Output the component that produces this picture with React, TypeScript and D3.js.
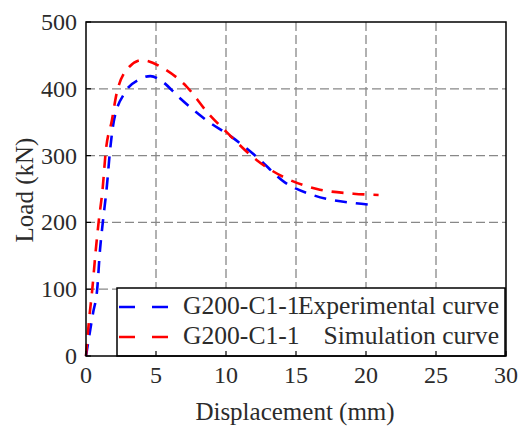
import * as d3 from "d3";

// Experimental curve (blue)
const expX = [0, 0.5, 0.8, 1.0, 1.2, 1.5, 1.7, 2.0, 2.8, 3.8, 4.6, 5.5, 6.6, 8.6, 10.4, 12.2, 14.2, 16.2, 19.1, 20.5];
const expY = [0, 64, 100, 159, 200, 256, 304, 353, 395, 414, 419, 410, 388, 353, 328, 298, 260, 241, 229, 226];

// Simulation curve (red)
const simX = [0, 0.2, 0.45, 0.7, 0.9, 1.2, 1.4, 1.85, 2.2, 3.1, 4.0, 5.5, 7.2, 8.7, 10.1, 12.2, 14.1, 16.5, 19.1, 20.9];
const simY = [0, 50, 100, 159, 200, 253, 304, 353, 394, 433, 443, 431, 403, 364, 334, 293, 268, 250, 243, 241];

const xTicks = [0, 5, 10, 15, 20, 25, 30];
const yTicks = [0, 100, 200, 300, 400, 500];

const seriesNames = ["G200-C1-1", "G200-C1-1"];
const seriesLabels = ["Experimental curve", "Simulation curve"];
const seriesColors = ["#0000ff", "#ff0000"];

const W = 521;
const H = 428;
const m = { left: 86, right: 506, top: 22, bottom: 356 };
const font = "Liberation Serif, Times New Roman, Times, serif";
const textColor = "#2b2b2b";

export default function App() {
  const x = d3.scaleLinear().domain([0, 30]).range([m.left, m.right]);
  const y = d3.scaleLinear().domain([0, 500]).range([m.bottom, m.top]);

  const line = d3
    .line<[number, number]>()
    .x((d) => x(d[0]))
    .y((d) => y(d[1]))
    .curve(d3.curveMonotoneX);

  const series = [
    d3.zip(expX, expY) as [number, number][],
    d3.zip(simX, simY) as [number, number][],
  ];

  const lgX = 117;
  const lgY = 288;
  const txt = { fontFamily: font, fill: textColor } as const;

  return (
    <svg
      width={W}
      height={H}
      style={{ position: "absolute", left: 0, top: 0, background: "#fff" }}
    >
      {/* grid */}
      {xTicks.slice(1, -1).map((t) => (
        <line key={"gx" + t} x1={x(t)} x2={x(t)} y1={m.top} y2={m.bottom}
          stroke="#888" strokeWidth={1.3} strokeDasharray="9,4" />
      ))}
      {yTicks.slice(1, -1).map((t) => (
        <line key={"gy" + t} x1={m.left} x2={m.right} y1={y(t)} y2={y(t)}
          stroke="#888" strokeWidth={1.3} strokeDasharray="9,4" />
      ))}

      {/* curves */}
      {series.map((s, i) => (
        <path key={"s" + i} d={line(s) ?? ""} fill="none" stroke={seriesColors[i]}
          strokeWidth={2.6} strokeDasharray="12,9" />
      ))}

      {/* legend */}
      <rect x={lgX} y={lgY} width={m.right - lgX - 1} height={m.bottom - lgY}
        fill="#fff" stroke="#000" strokeWidth={1.5} />
      {seriesNames.map((n, i) => {
        const cy = lgY + 19 + i * 30;
        return (
          <g key={"lg" + i}>
            <line x1={119} x2={168} y1={cy} y2={cy} stroke={seriesColors[i]}
              strokeWidth={2.6} strokeDasharray="16,17" />
            <text x={183} y={cy + 7} fontSize={25.6} style={txt}>
              {n}
            </text>
            <text x={499} y={cy + 7} textAnchor="end" fontSize={25.6} style={txt}>
              {seriesLabels[i]}
            </text>
          </g>
        );
      })}

      {/* frame */}
      <rect x={m.left} y={m.top} width={m.right - m.left} height={m.bottom - m.top}
        fill="none" stroke="#000" strokeWidth={1.5} />

      {/* ticks */}
      {xTicks.map((t) => (
        <g key={"xt" + t}>
          <line x1={x(t)} x2={x(t)} y1={m.bottom} y2={m.bottom - 5} stroke="#000" strokeWidth={1.2} />
          <text x={x(t)} y={383} textAnchor="middle" fontSize={24} style={txt}>
            {t}
          </text>
        </g>
      ))}
      {yTicks.map((t) => (
        <g key={"yt" + t}>
          <line x1={m.left} x2={m.left + 5} y1={y(t)} y2={y(t)} stroke="#000" strokeWidth={1.2} />
          <text x={77} y={y(t) + 8} textAnchor="end" fontSize={24} style={txt}>
            {t}
          </text>
        </g>
      ))}

      {/* axis titles */}
      <text x={295} y={420} textAnchor="middle" fontSize={25} style={txt}>
        Displacement (mm)
      </text>
      <text transform={`translate(33, 190) rotate(-90)`} textAnchor="middle"
        fontSize={25} style={txt}>
        Load (kN)
      </text>
    </svg>
  );
}
